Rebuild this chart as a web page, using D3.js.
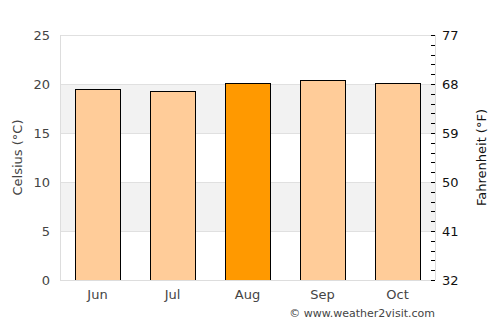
<!DOCTYPE html>
<html>
<head>
<meta charset="utf-8">
<script src="https://cdn.jsdelivr.net/npm/d3@7"></script>
<style>
  body { margin: 0; background: #fff; }
  text { font-family: "DejaVu Sans", sans-serif; }
</style>
</head>
<body>
<svg id="chart" width="500" height="325"></svg>
<script>
// data
const months = ['Jun', 'Jul', 'Aug', 'Sep', 'Oct'];
const celsius = [19.5, 19.3, 20.1, 20.4, 20.1];
const highlight = ['Aug'];
const cTicks = [0, 5, 10, 15, 20, 25];
const fTicks = [32, 41, 50, 59, 68, 77];

const margin = { top: 35, right: 65, bottom: 45, left: 60 };
const W = 500, H = 325;
const w = W - margin.left - margin.right;
const h = H - margin.top - margin.bottom;

const svg = d3.select('#chart');
const g = svg.append('g').attr('transform', `translate(${margin.left},${margin.top})`);

const x = d3.scaleBand().domain(months).range([0, w]).paddingInner(0.4).paddingOuter(0.2);
const y = d3.scaleLinear().domain([0, 25]).range([h, 0]);
const yF = d3.scaleLinear().domain([32, 77]).range([h, 0]);

// shaded bands 5-10, 15-20
const bands = [[5, 10], [15, 20]];
g.selectAll('.band')
  .data(bands)
  .enter()
  .append('rect')
  .attr('x', 0)
  .attr('width', w)
  .attr('y', d => y(d[1]))
  .attr('height', d => y(d[0]) - y(d[1]))
  .attr('fill', '#f2f2f2');

// grid lines
g.selectAll('.grid')
  .data(cTicks)
  .enter()
  .append('line')
  .attr('x1', 0)
  .attr('x2', w)
  .attr('y1', d => Math.round(y(d)) + 0.5)
  .attr('y2', d => Math.round(y(d)) + 0.5)
  .attr('stroke', '#e0e0e0');

// bars
g.selectAll('.bar')
  .data(months)
  .enter()
  .append('rect')
  .attr('x', d => Math.round(x(d)) + 0.5)
  .attr('width', Math.round(x.bandwidth()))
  .attr('y', (d, i) => Math.round(y(celsius[i])) + 0.5)
  .attr('height', (d, i) => Math.round(h - y(celsius[i])))
  .attr('fill', d => highlight.includes(d) ? '#ff9900' : '#ffcc99')
  .attr('stroke', '#000')
  .attr('stroke-width', 1);

// axis lines
g.append('line').attr('x1', 0.5).attr('x2', 0.5).attr('y1', 0).attr('y2', h).attr('stroke', '#dddddd');
g.append('line').attr('x1', w + 0.5).attr('x2', w + 0.5).attr('y1', 0).attr('y2', h).attr('stroke', '#dddddd');
g.append('line').attr('x1', 0).attr('x2', w).attr('y1', h + 0.5).attr('y2', h + 0.5).attr('stroke', '#dddddd');

// left axis labels
g.selectAll('.cLabel')
  .data(cTicks)
  .enter()
  .append('text')
  .attr('x', -10)
  .attr('y', d => y(d))
  .attr('dy', '0.35em')
  .attr('text-anchor', 'end')
  .attr('font-size', 13)
  .attr('fill', '#444')
  .text(d => d);

// right axis ticks: minor every 1 °C
const minor = d3.range(0, 26, 1);
g.selectAll('.fTick')
  .data(minor)
  .enter()
  .append('line')
  .attr('x1', w - 4)
  .attr('x2', w)
  .attr('y1', d => Math.round(y(d)) + 0.5)
  .attr('y2', d => Math.round(y(d)) + 0.5)
  .attr('stroke', '#000');

g.selectAll('.fLabel')
  .data(fTicks)
  .enter()
  .append('text')
  .attr('x', w + 7)
  .attr('y', d => yF(d))
  .attr('dy', '0.35em')
  .attr('font-size', 13)
  .attr('fill', '#111')
  .text(d => d);

// x labels
g.selectAll('.xLabel')
  .data(months)
  .enter()
  .append('text')
  .attr('x', d => x(d) + x.bandwidth() / 2)
  .attr('y', h + 19)
  .attr('text-anchor', 'middle')
  .attr('font-size', 13)
  .attr('fill', '#444')
  .text(d => d);

// axis titles
svg.append('text')
  .attr('transform', `translate(22,${margin.top + h / 2}) rotate(-90)`)
  .attr('text-anchor', 'middle')
  .attr('font-size', 13)
  .attr('fill', '#444')
  .text('Celsius (°C)');

svg.append('text')
  .attr('transform', `translate(486,${margin.top + h / 2}) rotate(-90)`)
  .attr('text-anchor', 'middle')
  .attr('font-size', 13)
  .attr('fill', '#111')
  .text('Fahrenheit (°F)');

// credit
svg.append('text')
  .attr('x', 435)
  .attr('y', 317)
  .attr('text-anchor', 'end')
  .attr('font-size', 11)
  .attr('fill', '#444')
  .text('© www.weather2visit.com');
</script>
</body>
</html>
